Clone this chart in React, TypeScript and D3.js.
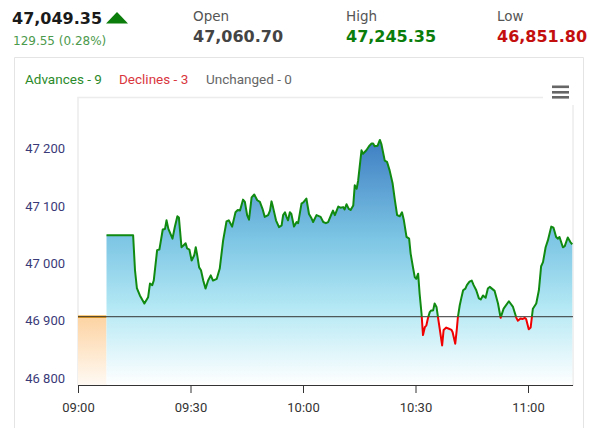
import React, { useEffect, useRef } from 'react';
import * as d3 from 'd3';

// quote header
const lastPrice = '47,049.35';
const changeText = '129.55 (0.28%)';
const statLabels = ['Open', 'High', 'Low'];
const statValues = ['47,060.70', '47,245.35', '46,851.80'];
const statColors = ['#444444', '#0b7d0b', '#c40f0f'];

// market breadth
const breadthLabels = ['Advances - 9', 'Declines - 3', 'Unchanged - 0'];
const breadthColors = ['#2b8a2b', '#d9363e', '#666666'];

// intraday series: minutes after 09:00 and index level
const minutes = [
  7.6, 14.7, 15.2, 15.7, 16.5, 17.7, 18.7, 19.2, 19.8, 20.2, 21.1, 21.7, 22.6, 23.2, 23.6, 24.1,
  25.2, 25.8, 26.5, 26.9, 27.6, 28.1, 28.7, 29.1, 29.7, 30.3, 31.0, 31.4, 31.8, 32.3, 32.8, 33.4,
  34.0, 34.7, 35.4, 36.0, 37.0, 37.8, 38.7, 39.6, 40.2, 41.1, 42.0, 42.6, 43.2, 44.0, 44.5, 45.1,
  45.6, 46.3, 47.0, 47.8, 48.5, 49.2, 49.8, 50.7, 51.2, 51.6, 52.0, 52.8, 53.6, 54.3, 54.7, 55.2,
  55.6, 56.0, 56.5, 56.9, 57.6, 58.3, 58.7, 59.6, 60.2, 60.9, 61.6, 62.3, 62.7, 63.6, 64.7, 65.4,
  66.1, 66.7, 67.6, 68.0, 68.5, 69.4, 70.0, 70.7, 71.1, 71.6, 72.2, 72.7, 73.4, 73.8, 74.3, 74.7,
  75.6, 76.0, 76.9, 77.6, 78.3, 78.7, 79.1, 79.9, 80.5, 80.9, 81.8, 82.4, 83.1, 83.9, 84.5, 85.1,
  85.8, 86.4, 86.9, 87.6, 88.3, 88.7, 89.3, 89.8, 90.2, 90.7, 91.1, 91.6, 92.0, 92.5, 92.9, 93.3,
  93.8, 94.2, 94.7, 95.1, 95.6, 96.0, 96.5, 97.1, 97.5, 98.2, 98.9, 99.6, 99.9, 100.6, 101.0, 101.3,
  101.8, 102.2, 102.7, 103.3, 103.7, 104.4, 105.0, 105.5, 106.2, 106.9, 107.4, 108.0, 108.7, 109.3, 109.8, 111.1,
  112.0, 112.7, 113.5, 114.9, 116.0, 116.9, 117.3, 118.0, 118.6, 119.1, 119.5, 120.2, 120.7, 121.3, 122.2, 122.9,
  123.5, 124.0, 124.7, 125.3, 126.2, 126.8, 127.5, 128.0, 128.4, 129.3, 129.8, 130.6, 131.3, 131.8,
];
const values = [
  47049, 47049, 46988, 46957, 46944, 46930, 46941, 46965, 46962, 46970, 47023, 47024, 47059, 47060, 47075, 47060,
  47043, 47063, 47082, 47080, 47028, 47031, 47035, 47026, 47024, 47005, 47014, 47028, 47014, 46993, 46988, 46970,
  46956, 46970, 46979, 46970, 46973, 46991, 47040, 47073, 47075, 47064, 47089, 47093, 47092, 47111, 47107, 47084,
  47076, 47115, 47120, 47110, 47107, 47095, 47081, 47084, 47092, 47108, 47098, 47075, 47063, 47066, 47084, 47089,
  47081, 47075, 47089, 47086, 47064, 47072, 47070, 47104, 47107, 47113, 47086, 47078, 47072, 47084, 47081, 47072,
  47070, 47072, 47086, 47092, 47084, 47099, 47097, 47098, 47094, 47103, 47095, 47093, 47101, 47136, 47130, 47144,
  47197, 47191, 47197, 47204, 47209, 47209, 47204, 47205, 47215, 47208, 47179, 47177, 47162, 47139, 47110, 47084,
  47082, 47089, 47075, 47046, 47043, 47017, 46994, 46976, 46973, 46982, 46947, 46913, 46875, 46889, 46892, 46904,
  46915, 46918, 46918, 46930, 46924, 46906, 46884, 46857, 46884, 46888, 46886, 46884, 46880, 46860, 46884, 46906,
  46927, 46939, 46953, 46956, 46962, 46968, 46970, 46962, 46953, 46939, 46937, 46944, 46940, 46956, 46959, 46952,
  46930, 46905, 46921, 46934, 46924, 46905, 46900, 46904, 46903, 46905, 46903, 46885, 46888, 46921, 46930, 46953,
  46995, 47002, 47028, 47040, 47064, 47062, 47046, 47043, 47046, 47028, 47030, 47045, 47037, 47033,
];
const prevClose = 46907;
const preOpenEnd = 7.6;

// axes
const xDomain = [0, 132];
const yDomain = [46788, 47289];
const xTickMinutes = [0, 30, 60, 90, 120];
const xTickLabels = ['09:00', '09:30', '10:00', '10:30', '11:00'];
const yTicks = [46800, 46900, 47000, 47100, 47200];

export default function App() {
  const svgRef = useRef<SVGSVGElement>(null);

  useEffect(() => {
    if (!svgRef.current) return;
    const svg = d3.select(svgRef.current);
    svg.selectAll('*').remove();

    const left = 78, right = 573, top = 97.5, bottom = 385;
    const x = d3.scaleLinear().domain(xDomain).range([left, right]);
    const y = d3.scaleLinear().domain(yDomain).range([bottom, top]);
    const data = minutes.map((m, i) => ({ m, v: values[i] }));
    const headFont = '"DejaVu Sans", sans-serif';
    const bodyFont = 'Roboto, sans-serif';

    // card frame
    svg.append('path')
      .attr('d', `M14.5,428 V57.5 H583.5 V428`)
      .attr('fill', 'none')
      .attr('stroke', '#e4e4e4');

    // header
    svg.append('text').attr('x', 12).attr('y', 24)
      .attr('font-family', headFont).attr('font-weight', 'bold').attr('font-size', 16)
      .attr('fill', '#1a1a1a').text(lastPrice);
    svg.append('path')
      .attr('d', 'M106,23.5 L117,12 L128,23.5 Z')
      .attr('fill', '#0b7d0b');
    svg.append('text').attr('x', 13).attr('y', 44.5)
      .attr('font-family', headFont).attr('font-size', 12)
      .attr('fill', '#4c9a4c').text(changeText);

    const statX = [193, 346, 497];
    statLabels.forEach((label, i) => {
      svg.append('text').attr('x', statX[i]).attr('y', 21)
        .attr('font-family', headFont).attr('font-size', 13.5)
        .attr('fill', '#555').text(label);
      svg.append('text').attr('x', statX[i]).attr('y', 41.7)
        .attr('font-family', headFont).attr('font-weight', 'bold').attr('font-size', 16)
        .attr('fill', statColors[i]).text(statValues[i]);
    });

    // breadth legend
    const legendX = [25, 119, 206];
    breadthLabels.forEach((label, i) => {
      svg.append('text').attr('x', legendX[i]).attr('y', 83.5)
        .attr('font-family', bodyFont).attr('font-size', 13.5)
        .attr('fill', breadthColors[i]).text(label);
    });

    // gradients and clips
    const defs = svg.append('defs');
    const areaGrad = defs.append('linearGradient')
      .attr('id', 'areaGrad')
      .attr('gradientUnits', 'userSpaceOnUse')
      .attr('x1', 0).attr('x2', 0)
      .attr('y1', y(d3.max(values) as number)).attr('y2', bottom);
    [['0', '#3e7ec3'], ['0.4', '#7cc5e4'], ['0.68', '#b3e8f4'], ['1', '#ffffff']].forEach(([o, c]) => {
      areaGrad.append('stop').attr('offset', o).attr('stop-color', c);
    });
    const orangeGrad = defs.append('linearGradient')
      .attr('id', 'orangeGrad').attr('x1', 0).attr('x2', 0).attr('y1', 0).attr('y2', 1);
    orangeGrad.append('stop').attr('offset', '0').attr('stop-color', '#fdd3a2');
    orangeGrad.append('stop').attr('offset', '1').attr('stop-color', '#fffaf4');

    const yClose = y(prevClose);
    defs.append('clipPath').attr('id', 'aboveClip')
      .append('rect').attr('x', 0).attr('y', 0).attr('width', 590).attr('height', yClose);
    defs.append('clipPath').attr('id', 'belowClip')
      .append('rect').attr('x', 0).attr('y', yClose).attr('width', 590).attr('height', 428 - yClose);

    // plot frame
    svg.append('rect')
      .attr('x', left).attr('y', top)
      .attr('width', right - left).attr('height', bottom - top)
      .attr('fill', 'none').attr('stroke', '#ececec').attr('stroke-width', 1.5);

    // pre-open block
    svg.append('rect')
      .attr('x', x(0)).attr('y', yClose)
      .attr('width', x(preOpenEnd) - x(0)).attr('height', bottom - yClose)
      .attr('fill', 'url(#orangeGrad)');
    svg.append('line')
      .attr('x1', x(0)).attr('x2', x(preOpenEnd))
      .attr('y1', yClose).attr('y2', yClose)
      .attr('stroke', '#f5a31a').attr('stroke-width', 2.5);

    // series area
    const area = d3.area<{ m: number; v: number }>()
      .x(d => x(d.m)).y0(bottom).y1(d => y(d.v));
    svg.append('path').datum(data)
      .attr('d', area)
      .attr('fill', 'url(#areaGrad)');

    // previous close line
    svg.append('line')
      .attr('x1', x(0)).attr('x2', right)
      .attr('y1', yClose).attr('y2', yClose)
      .attr('stroke', '#333').attr('stroke-width', 1);

    // series line, green above close and red below
    const line = d3.line<{ m: number; v: number }>()
      .x(d => x(d.m)).y(d => y(d.v));
    svg.append('path').datum(data)
      .attr('d', line).attr('fill', 'none')
      .attr('stroke', '#118a11').attr('stroke-width', 2)
      .attr('stroke-linejoin', 'round')
      .attr('clip-path', 'url(#aboveClip)');
    svg.append('path').datum(data)
      .attr('d', line).attr('fill', 'none')
      .attr('stroke', '#f00000').attr('stroke-width', 2)
      .attr('stroke-linejoin', 'round')
      .attr('clip-path', 'url(#belowClip)');

    // x axis
    const xAxis = svg.append('g')
      .attr('transform', `translate(0,${bottom})`)
      .call(
        d3.axisBottom(x)
          .tickValues(xTickMinutes)
          .tickFormat((_d, i) => xTickLabels[i])
          .tickSize(8)
          .tickSizeOuter(0)
      );
    xAxis.select('.domain').attr('stroke', '#333').attr('d', `M${left},0.5H${right}`);
    xAxis.selectAll('line').attr('stroke', '#333');
    xAxis.selectAll('text')
      .attr('y', 27).attr('dy', null)
      .attr('fill', '#333')
      .style('font-family', bodyFont).style('font-size', '13px');

    // y axis labels
    const yAxis = svg.append('g')
      .attr('transform', `translate(${left},0)`)
      .call(
        d3.axisLeft(y)
          .tickValues(yTicks)
          .tickFormat(d => d3.format(',')(d as number).replace(',', ' '))
          .tickSize(0)
          .tickPadding(13)
      );
    yAxis.select('.domain').remove();
    yAxis.selectAll('text')
      .attr('fill', '#3a3a78')
      .style('font-family', bodyFont).style('font-size', '13px');

    // export menu icon
    svg.append('rect')
      .attr('x', 543).attr('y', 78).attr('width', 34).attr('height', 27)
      .attr('fill', '#fff');
    [85.5, 91, 96].forEach(yy => {
      svg.append('rect')
        .attr('x', 552).attr('y', yy).attr('width', 17).attr('height', 2.6)
        .attr('fill', '#666');
    });
  }, []);

  return (
    <div style={{ position: 'absolute', left: 0, top: 0 }}>
      <svg ref={svgRef} width={590} height={428} style={{ display: 'block', background: '#fff' }}></svg>
    </div>
  );
}
